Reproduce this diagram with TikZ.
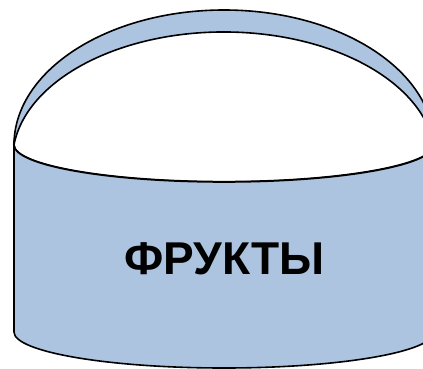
\documentclass[tikz,border=0pt]{standalone}
\usepackage{fontspec}
\setmainfont{Liberation Sans}
\definecolor{basketblue}{RGB}{173,196,224}
\tikzset{
    basket/.style={draw=black, line width=1.6pt, fill=basketblue},
    hollow/.style={draw=black, line width=1.6pt, fill=white}
}
\begin{document}
\begin{tikzpicture}[x=1pt, y=1pt]
    \useasboundingbox (0,0) rectangle (423,368);
    \clip (0,0) rectangle (423,368);
    % handle
    \path[basket] (14,223) arc[start angle=180, end angle=0, x radius=210, y radius=135] -- cycle;
    \path[hollow] (14,223.4) arc[start angle=173.1, end angle=6.9, x radius=211.5, y radius=128]
                  arc[start angle=0, end angle=-180, x radius=210, y radius=37] -- cycle;
    % body
    \path[basket] (14,223) -- (14,36)
                  arc[start angle=180, end angle=360, x radius=210, y radius=36]
                  -- (434,223)
                  arc[start angle=0, end angle=-180, x radius=210, y radius=37] -- cycle;
    \node [font=\bfseries\fontsize{46}{52}\selectfont] (label) at (224.5,109) {ФРУКТЫ};
\end{tikzpicture}
\end{document}
